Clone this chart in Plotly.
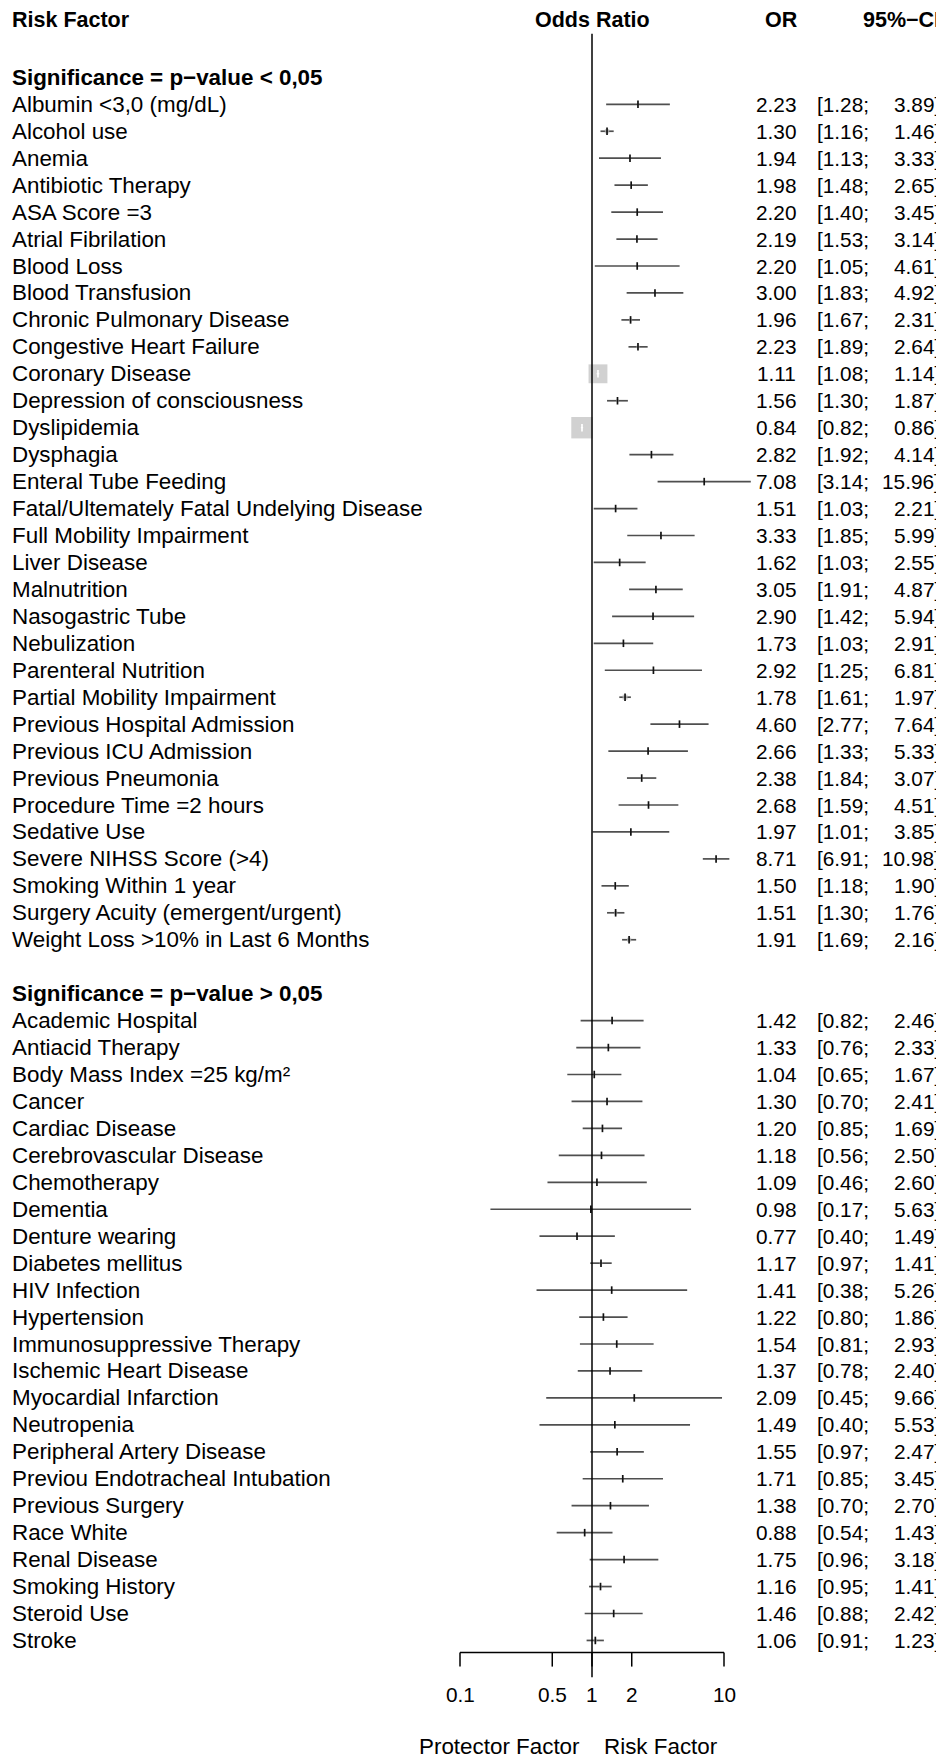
import math
import plotly.graph_objects as go

# ---------------- data ----------------
labels_sig = ["Albumin <3,0 (mg/dL)", "Alcohol use", "Anemia", "Antibiotic Therapy", "ASA Score =3",
              "Atrial Fibrilation", "Blood Loss", "Blood Transfusion", "Chronic Pulmonary Disease",
              "Congestive Heart Failure", "Coronary Disease", "Depression of consciousness", "Dyslipidemia",
              "Dysphagia", "Enteral Tube Feeding", "Fatal/Ultemately Fatal Undelying Disease",
              "Full Mobility Impairment", "Liver Disease", "Malnutrition", "Nasogastric Tube", "Nebulization",
              "Parenteral Nutrition", "Partial Mobility Impairment", "Previous Hospital Admission",
              "Previous ICU Admission", "Previous Pneumonia", "Procedure Time =2 hours", "Sedative Use",
              "Severe NIHSS Score (>4)", "Smoking Within 1 year", "Surgery Acuity (emergent/urgent)",
              "Weight Loss >10% in Last 6 Months"]
or_sig = [2.23, 1.30, 1.94, 1.98, 2.20, 2.19, 2.20, 3.00, 1.96, 2.23, 1.11, 1.56, 0.84, 2.82, 7.08, 1.51,
          3.33, 1.62, 3.05, 2.90, 1.73, 2.92, 1.78, 4.60, 2.66, 2.38, 2.68, 1.97, 8.71, 1.50, 1.51, 1.91]
lo_sig = [1.28, 1.16, 1.13, 1.48, 1.40, 1.53, 1.05, 1.83, 1.67, 1.89, 1.08, 1.30, 0.82, 1.92, 3.14, 1.03,
          1.85, 1.03, 1.91, 1.42, 1.03, 1.25, 1.61, 2.77, 1.33, 1.84, 1.59, 1.01, 6.91, 1.18, 1.30, 1.69]
hi_sig = [3.89, 1.46, 3.33, 2.65, 3.45, 3.14, 4.61, 4.92, 2.31, 2.64, 1.14, 1.87, 0.86, 4.14, 15.96, 2.21,
          5.99, 2.55, 4.87, 5.94, 2.91, 6.81, 1.97, 7.64, 5.33, 3.07, 4.51, 3.85, 10.98, 1.90, 1.76, 2.16]

labels_ns = ["Academic Hospital", "Antiacid Therapy", "Body Mass Index =25 kg/m²", "Cancer", "Cardiac Disease",
             "Cerebrovascular Disease", "Chemotherapy", "Dementia", "Denture wearing", "Diabetes mellitus",
             "HIV Infection", "Hypertension", "Immunosuppressive Therapy", "Ischemic Heart Disease",
             "Myocardial Infarction", "Neutropenia", "Peripheral Artery Disease",
             "Previou Endotracheal Intubation", "Previous Surgery", "Race White", "Renal Disease",
             "Smoking History", "Steroid Use", "Stroke"]
or_ns = [1.42, 1.33, 1.04, 1.30, 1.20, 1.18, 1.09, 0.98, 0.77, 1.17, 1.41, 1.22, 1.54, 1.37, 2.09, 1.49,
         1.55, 1.71, 1.38, 0.88, 1.75, 1.16, 1.46, 1.06]
lo_ns = [0.82, 0.76, 0.65, 0.70, 0.85, 0.56, 0.46, 0.17, 0.40, 0.97, 0.38, 0.80, 0.81, 0.78, 0.45, 0.40,
         0.97, 0.85, 0.70, 0.54, 0.96, 0.95, 0.88, 0.91]
hi_ns = [2.46, 2.33, 1.67, 2.41, 1.69, 2.50, 2.60, 5.63, 1.49, 1.41, 5.26, 1.86, 2.93, 2.40, 9.66, 5.53,
         2.47, 3.45, 2.70, 1.43, 3.18, 1.41, 2.42, 1.23]

group_titles = ["Significance = p\u2212value < 0,05", "Significance = p\u2212value > 0,05"]
tick_vals = [0.1, 0.5, 1, 2, 10]
tick_text = ["0.1", "0.5", "1", "2", "10"]
label_left = "Protector Factor"
label_right = "Risk Factor"

# ---------------- layout constants (page pixels) ----------------
PAGE_W, PAGE_H = 944, 1758
OFF = 8                                   # default body margin of the html page
W, H = PAGE_W - OFF, PAGE_H - OFF
REF_PX, DEC_PX = 592.0 - OFF, 132.0       # figure x pixel of OR=1, pixels per decade
ROW0_PX, ROW_PX = 104.3 - OFF, 26.95      # figure y pixel of first row, row height
FONT = "Liberation Sans, Arial, sans-serif"
FS = 22.4          # labels
FS_NUM = 20.8      # numeric columns
CI_COL = "#4f4f4f"
SQ_COL = "#bebebe"

def paper_x(page_px):
    return (page_px - OFF) / W

rows_sig = list(range(0, len(labels_sig)))
hdr2_row = len(labels_sig) + 1
rows_ns = list(range(hdr2_row + 1, hdr2_row + 1 + len(labels_ns)))
hdr1_row = -1
top_hdr_row = -3.12
last_row = rows_ns[-1]
axis_row = last_row + 0.45
tick_len = 0.52
ticklab_row = last_row + 2.02
bottom_row = last_row + 3.95

labels = labels_sig + labels_ns
ors = or_sig + or_ns
los = lo_sig + lo_ns
his = hi_sig + hi_ns
rows = rows_sig + rows_ns

fig = go.Figure()

# CI lines
cx, cy = [], []
for o, l, h, r in zip(ors, los, his, rows):
    cx += [l, h, None]
    cy += [r, r, None]
fig.add_trace(go.Scatter(x=cx, y=cy, mode="lines", line=dict(color=CI_COL, width=1.7),
                         hoverinfo="skip", showlegend=False))

# squares sized by inverse standard error
K = 0.26
sizes = []
for l, h in zip(los, his):
    se = (math.log(h) - math.log(l)) / 3.92
    sizes.append(K / se)
fig.add_trace(go.Scatter(x=ors, y=rows, mode="markers",
                         marker=dict(symbol="square", size=sizes, color=SQ_COL, line=dict(width=0)),
                         hoverinfo="skip", showlegend=False))

# estimate ticks (white inside big squares)
tb_x, tb_y, tw_x, tw_y = [], [], [], []
half = 0.14
for o, l, h, r, s in zip(ors, los, his, rows, sizes):
    if s > 8:
        tw_x += [o, o, None, l, h, None]
        tw_y += [r - half, r + half, None, r, r, None]
    else:
        tb_x += [o, o, None]
        tb_y += [r - half, r + half, None]
fig.add_trace(go.Scatter(x=tb_x, y=tb_y, mode="lines", line=dict(color="#111111", width=1.7),
                         hoverinfo="skip", showlegend=False))
fig.add_trace(go.Scatter(x=tw_x, y=tw_y, mode="lines", line=dict(color="white", width=1.7),
                         hoverinfo="skip", showlegend=False))

# reference line at 1
fig.add_trace(go.Scatter(x=[1, 1], y=[-2.62, axis_row + 0.92], mode="lines",
                         line=dict(color="black", width=1.5), hoverinfo="skip", showlegend=False))

# x axis line and ticks
ax_x = [tick_vals[0], tick_vals[-1], None]
ax_y = [axis_row, axis_row, None]
for t in tick_vals:
    ax_x += [t, t, None]
    ax_y += [axis_row, axis_row + tick_len, None]
fig.add_trace(go.Scatter(x=ax_x, y=ax_y, mode="lines", line=dict(color="black", width=1.5),
                         hoverinfo="skip", showlegend=False))

ann = []
def txt(x, y, text, xanchor, xref="paper", bold=False, size=FS):
    ann.append(dict(x=x, y=y, xref=xref, yref="y", text=text,
                    showarrow=False, xanchor=xanchor, yanchor="middle", borderpad=0, borderwidth=0,
                    font=dict(family=FONT, size=size, color="black",
                              weight="bold" if bold else "normal")))

LAB_X = paper_x(12)
OR_X = paper_x(796)
ORH_X = paper_x(798)
CIL_X = paper_x(817)
CI_X = paper_x(940)

# headers
txt(LAB_X, top_hdr_row, "Risk Factor", "left", bold=True, size=21.5)
txt(0, top_hdr_row, "Odds Ratio", "center", xref="x", bold=True, size=21.5)
txt(ORH_X, top_hdr_row, "OR", "right", bold=True, size=21.5)
txt(CI_X, top_hdr_row, "95%\u2212CI", "right", bold=True, size=21.5)
txt(LAB_X, hdr1_row, group_titles[0], "left", bold=True)
txt(LAB_X, hdr2_row, group_titles[1], "left", bold=True)

for lab, o, l, h, r in zip(labels, ors, los, his, rows):
    txt(LAB_X, r, lab, "left")
    txt(OR_X, r, "%.2f" % o, "right", size=FS_NUM)
    txt(CIL_X, r, "[%.2f;" % l, "left", size=FS_NUM)
    txt(CI_X, r, "%.2f]" % h, "right", size=FS_NUM)

# tick labels
for t, tt in zip(tick_vals, tick_text):
    txt(math.log10(t), ticklab_row, tt, "center", xref="x", size=FS_NUM)

# bottom labels
txt(-12 / DEC_PX, bottom_row, label_left, "right", xref="x")
txt(12 / DEC_PX, bottom_row, label_right, "left", xref="x")

fig.update_layout(
    width=W, height=H, margin=dict(l=0, r=0, t=0, b=0),
    paper_bgcolor="white", plot_bgcolor="white",
    xaxis=dict(type="log", range=[(0 - REF_PX) / DEC_PX, (W - REF_PX) / DEC_PX], domain=[0, 1],
               visible=False, fixedrange=True),
    yaxis=dict(range=[(H - ROW0_PX) / ROW_PX, (0 - ROW0_PX) / ROW_PX], domain=[0, 1],
               visible=False, fixedrange=True),
    annotations=ann, showlegend=False,
)

fig.write_html("out.html")
